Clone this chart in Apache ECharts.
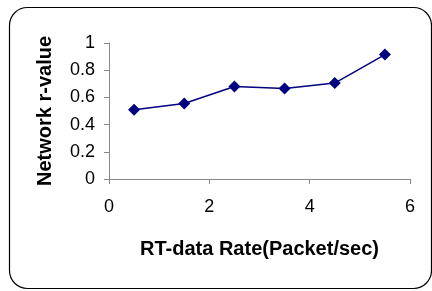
<!DOCTYPE html>
<html>
<head>
<meta charset="utf-8">
<script src="https://cdn.jsdelivr.net/npm/echarts@6/dist/echarts.min.js"></script>
<style>
  html, body { margin: 0; padding: 0; background: #fff; }
  #chart { width: 432px; height: 291px; }
</style>
</head>
<body>
<div id="chart"></div>
<script>
// RT-data rate vs network r-value
const rates = [0.5, 1.5, 2.5, 3.5, 4.5, 5.5];
const rValues = [0.51, 0.555, 0.68, 0.665, 0.705, 0.915];

const xTitle = 'RT-data Rate(Packet/sec)';
const yTitle = 'Network r-value';

const chart = echarts.init(document.getElementById('chart'));

const font = 'Liberation Sans, Arial, sans-serif';
const axisGray = '#888';

chart.setOption({
  animation: false,
  backgroundColor: '#fff',
  graphic: [{
    type: 'rect',
    left: 7,
    top: 5,
    shape: { width: 422, height: 281, r: 18 },
    style: { fill: 'none', stroke: '#000', lineWidth: 1.2 },
    silent: true
  }],
  grid: { left: 109, top: 43, right: 22, bottom: 112 },
  xAxis: {
    type: 'value',
    min: 0,
    max: 6,
    interval: 2,
    name: xTitle,
    nameLocation: 'middle',
    nameGap: 60,
    nameTextStyle: { fontFamily: font, fontSize: 20, fontWeight: 'bold', color: '#000' },
    axisLine: { show: true, lineStyle: { color: axisGray, width: 1 } },
    axisTick: { show: true, inside: false, length: 5, lineStyle: { color: axisGray } },
    axisLabel: { fontFamily: font, fontSize: 18, color: '#000', margin: 19 },
    splitLine: { show: false }
  },
  yAxis: {
    type: 'value',
    min: 0,
    max: 1,
    interval: 0.2,
    name: yTitle,
    nameLocation: 'middle',
    nameGap: 54,
    nameTextStyle: { fontFamily: font, fontSize: 20, fontWeight: 'bold', color: '#000' },
    axisLine: { show: true, lineStyle: { color: axisGray, width: 1 } },
    axisTick: { show: true, inside: false, length: 5, lineStyle: { color: axisGray } },
    axisLabel: { fontFamily: font, fontSize: 18, color: '#000', margin: 14 },
    splitLine: { show: false }
  },
  series: [{
    type: 'line',
    data: rates.map((x, i) => [x, rValues[i]]),
    symbol: 'diamond',
    symbolSize: 12,
    lineStyle: { color: '#000080', width: 1.5 },
    itemStyle: { color: '#000080' }
  }]
});
</script>
</body>
</html>
